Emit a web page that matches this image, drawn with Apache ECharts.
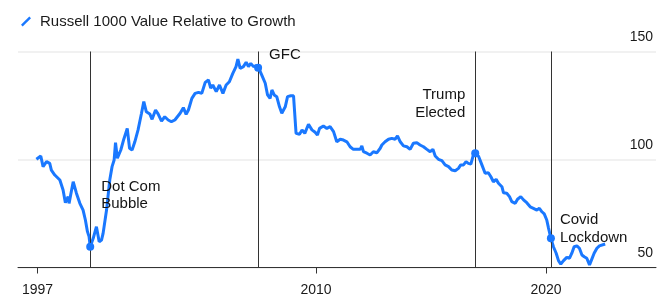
<!DOCTYPE html>
<html>
<head>
<meta charset="utf-8">
<title>Russell 1000 Value Relative to Growth</title>
<script src="https://cdn.jsdelivr.net/npm/echarts@6/dist/echarts.min.js"></script>
<style>html,body{margin:0;padding:0;background:#fff;}</style>
</head>
<body>
<div id="main" style="width:666px;height:302px;"></div>
<script type="text/javascript">
// data (decimal years, index value)
var seriesName = 'Russell 1000 Value Relative to Growth';
var years = [1997.84,1998.03,1998.13,1998.28,1998.42,1998.49,1998.64,1998.86,1999.00,1999.10,
  1999.22,1999.26,1999.44,1999.58,1999.73,1999.87,1999.97,2000.06,2000.13,2000.18,
  2000.31,2000.45,2000.57,2000.67,2000.74,2000.89,2001.03,2001.13,2001.22,2001.28,
  2001.36,2001.51,2001.64,2001.79,2001.89,2002.00,2002.12,2002.26,2002.41,2002.51,
  2002.62,2002.77,2002.87,2003.02,2003.13,2003.28,2003.42,2003.57,2003.71,2003.86,
  2003.97,2004.09,2004.23,2004.35,2004.45,2004.60,2004.74,2004.89,2005.03,2005.18,
  2005.32,2005.42,2005.51,2005.66,2005.80,2005.95,2006.09,2006.23,2006.38,2006.52,
  2006.60,2006.70,2006.84,2006.96,2007.06,2007.16,2007.28,2007.39,2007.51,2007.64,
  2007.79,2007.89,2008.00,2008.08,2008.18,2008.29,2008.41,2008.51,2008.66,2008.76,
  2008.90,2009.02,2009.13,2009.28,2009.39,2009.51,2009.67,2009.82,2009.96,2010.06,
  2010.15,2010.32,2010.47,2010.61,2010.76,2010.90,2011.05,2011.19,2011.34,2011.48,
  2011.62,2011.77,2011.92,2011.99,2012.06,2012.21,2012.35,2012.49,2012.64,2012.79,
  2012.86,2013.00,2013.15,2013.29,2013.44,2013.54,2013.66,2013.80,2013.95,2014.09,
  2014.23,2014.38,2014.52,2014.67,2014.82,2014.96,2015.08,2015.18,2015.32,2015.47,
  2015.61,2015.76,2015.90,2016.05,2016.19,2016.29,2016.41,2016.52,2016.62,2016.73,
  2016.84,2016.92,2017.06,2017.21,2017.35,2017.49,2017.60,2017.71,2017.83,2017.93,
  2018.08,2018.15,2018.29,2018.41,2018.51,2018.66,2018.76,2018.90,2019.02,2019.16,
  2019.31,2019.45,2019.60,2019.71,2019.82,2019.92,2020.03,2020.10,2020.21,2020.32,
  2020.44,2020.54,2020.64,2020.76,2020.90,2021.02,2021.12,2021.22,2021.34,2021.45,
  2021.56,2021.66,2021.77,2021.89,2021.99,2022.09,2022.21,2022.32,2022.57];
var values = [100.1,101.6,96.7,99,98.2,95.1,92.8,90.5,85.9,80,
  82.8,79.7,89.7,84.4,79.7,76.6,72,66.6,64.3,59.6,
  63.5,68.9,61.9,62.7,65.8,76.6,90.5,96.7,99.8,107.8,
  100.6,104.4,109.4,114.4,105.2,104.4,108.2,113.7,121.4,126.8,
  122.1,121.1,118.6,122.9,121.1,117.8,119.8,118.3,117.5,118.3,
  119.8,121.4,124,120.9,122.9,128.3,130.6,131.1,130.6,135.7,
  136.8,133,134.5,131.4,134.5,130.6,134.5,136,139.9,143,
  146.5,142.2,143,145,143,144.5,143,143.4,142.2,139.1,
  135.3,129.9,128.3,132.2,129.9,129.1,124.4,121.4,124.4,129.1,
  129.5,129.5,112.1,111.7,113.7,112.1,116.3,113.7,112.6,111.3,
  114.4,115.5,114.4,115.2,112.9,108.2,109.4,109,108.2,105.9,
  104.7,104.7,104.7,106.3,103.6,102.9,102.1,103.6,103.1,105.2,
  106.7,108.2,109.4,109.8,109.4,110.9,108.2,106.3,105.9,104.7,
  107.5,107.8,106.7,105.9,104.7,103.6,104.7,101.6,100.1,99.5,
  97.5,96.7,95.1,94.8,95.9,97.5,97.5,99,98.2,97.9,
  102.1,102.9,101.6,97.5,93.6,93.9,92,89.7,90.8,89,
  87.4,84.6,84.4,82.8,80.5,79.7,81.6,82.8,81.3,80,
  78.1,77.4,76.6,77.4,75.8,74.8,72,68.6,63.5,59.6,
  56.6,53.2,51.6,53.2,54.7,54.3,56.6,59.6,60,58.9,
  55.8,55,54.3,51.2,53.9,56.6,58.9,60,60.9];

var tickYears = [1997.89, 2010, 2020];
var tickLabels = ['1997', '2010', '2020'];

var eventNames = ['Dot Com\nBubble', 'GFC', 'Trump\nElected', 'Covid\nLockdown'];
var eventYears = [2000.18, 2007.48, 2016.92, 2020.21];
var eventValues = [59.6, 142.5, 102.9, 63.5];

var blue = '#1a78ff';
var font = '"Liberation Sans", Arial, Helvetica, sans-serif';

// where each annotation sits relative to its dot
var eventLabelPos = [
  {align: 'left', offset: [11, -69]},
  {align: 'left', offset: [11, -22]},
  {align: 'right', offset: [-10, -67]},
  {align: 'left', offset: [9, -27]}
];

var lineData = [];
for (var i = 0; i < years.length; i++) {
  lineData.push([years[i], values[i]]);
}

var pointData = [];
for (var j = 0; j < eventYears.length; j++) {
  pointData.push({
    name: eventNames[j],
    coord: [eventYears[j], eventValues[j]],
    label: {
      show: true,
      position: 'inside',
      formatter: '{b}',
      align: eventLabelPos[j].align,
      verticalAlign: 'top',
      offset: eventLabelPos[j].offset,
      color: '#141414',
      fontSize: 15,
      lineHeight: 17.5,
      fontFamily: font
    }
  });
}

var myChart = echarts.init(document.getElementById('main'));

var option = {
  animation: false,
  textStyle: {fontFamily: font},
  legend: {
    data: [{name: seriesName, icon: 'path://M0,8.3 L8.3,0 L10,1.7 L1.7,10 Z'}],
    left: 16,
    top: 9,
    itemWidth: 10,
    itemHeight: 11,
    textStyle: {fontSize: 15, color: '#1a1a1a', fontFamily: font, padding: [0, 0, 0, 4]}
  },
  grid: {left: 18, right: 10, top: 51.5, bottom: 34.5},
  xAxis: {
    type: 'value',
    min: 1997.04,
    max: 2024.78,
    splitLine: {show: false},
    axisLine: {onZero: false, lineStyle: {color: '#333', width: 1}},
    axisTick: {show: true, customValues: tickYears, length: 6, lineStyle: {color: '#333'}},
    axisLabel: {
      customValues: tickYears,
      margin: 16,
      fontSize: 14,
      color: '#1a1a1a',
      fontFamily: font,
      formatter: function (v) {
        var best = 0;
        for (var k = 1; k < tickYears.length; k++) {
          if (Math.abs(tickYears[k] - v) < Math.abs(tickYears[best] - v)) best = k;
        }
        return tickLabels[best];
      }
    }
  },
  yAxis: {
    type: 'value',
    position: 'right',
    min: 50,
    max: 150,
    interval: 50,
    axisLine: {show: false},
    axisTick: {show: false},
    axisLabel: {
      inside: true,
      margin: 3,
      verticalAlign: 'bottom',
      padding: [0, 0, 7, 0],
      fontSize: 14,
      color: '#1a1a1a',
      fontFamily: font
    },
    splitLine: {lineStyle: {color: '#ececec', width: 1.5}}
  },
  series: [
    {
      name: seriesName,
      type: 'line',
      data: lineData,
      showSymbol: false,
      color: blue,
      lineStyle: {color: blue, width: 3},
      markLine: {
        silent: true,
        symbol: ['none', 'none'],
        label: {show: false},
        lineStyle: {color: '#333', width: 1, type: 'solid'},
        data: eventYears.map(function (y) { return {xAxis: y}; })
      },
      markPoint: {
        silent: true,
        symbol: 'circle',
        symbolSize: 8,
        itemStyle: {color: blue},
        data: pointData
      }
    }
  ]
};

myChart.setOption(option);
</script>
</body>
</html>
